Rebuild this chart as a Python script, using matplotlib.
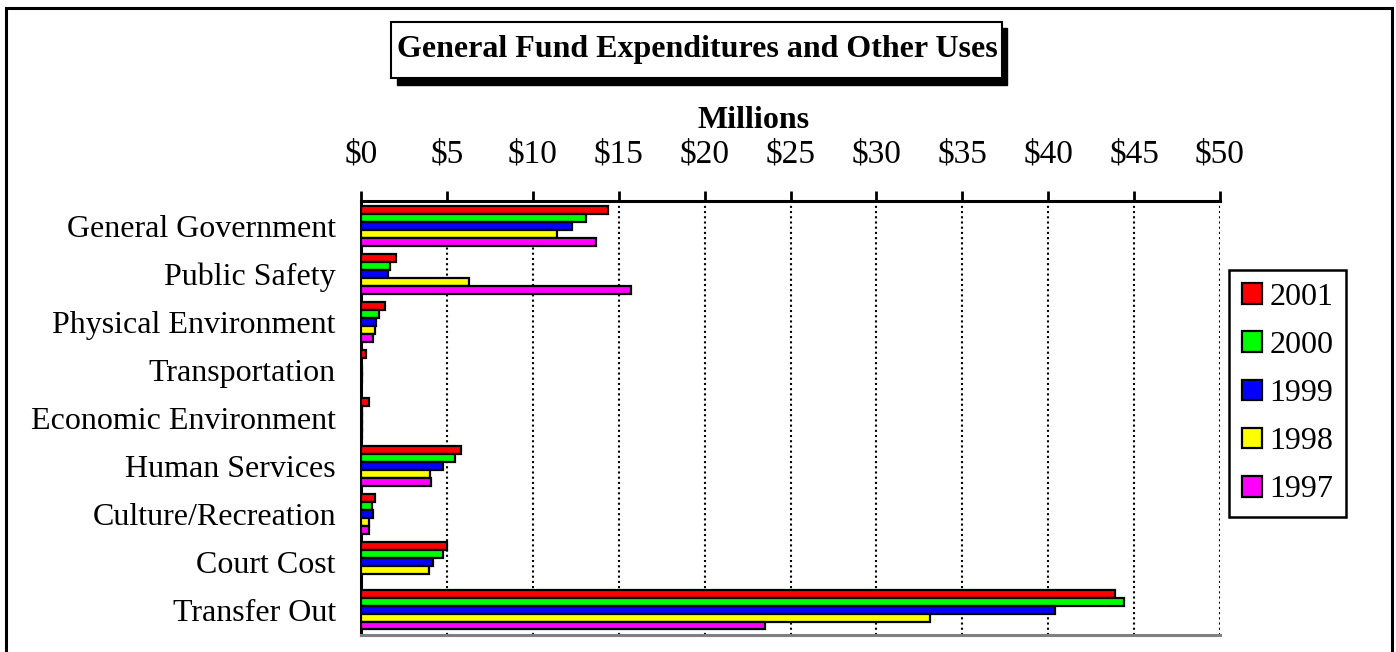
import numpy as np
import matplotlib
matplotlib.use('Agg')
import matplotlib.pyplot as plt
from matplotlib.patches import Rectangle

plt.rcParams['font.family'] = ['Liberation Serif', 'DejaVu Serif']

categories = ['General Government', 'Public Safety', 'Physical Environment',
              'Transportation', 'Economic Environment', 'Human Services',
              'Culture/Recreation', 'Court Cost', 'Transfer Out']
years = ['2001', '2000', '1999', '1998', '1997']
colors = ['#ff0000', '#00ff00', '#0000ff', '#ffff00', '#ff00ff']

# millions of dollars
y2001 = [14.4, 2.05, 1.37, 0.3, 0.44, 5.8, 0.79, 4.98, 43.9]
y2000 = [13.1, 1.7, 1.02, 0.0, 0.05, 5.45, 0.65, 4.75, 44.4]
y1999 = [12.3, 1.6, 0.9, 0.05, 0.05, 4.75, 0.67, 4.17, 40.4]
y1998 = [11.4, 6.27, 0.79, 0.05, 0.05, 4.0, 0.44, 3.94, 33.1]
y1997 = [13.7, 15.7, 0.67, 0.0, 0.05, 4.05, 0.44, 0.0, 23.5]
series = [y2001, y2000, y1999, y1998, y1997]

xticks = [0, 5, 10, 15, 20, 25, 30, 35, 40, 45, 50]
xticklabels = ['$%d' % v for v in xticks]

W, H = 1396, 652
fig = plt.figure(figsize=(W / 100, H / 100), dpi=100)
ax = fig.add_axes([361 / W, 17 / H, 859 / W, 434 / H])

pos = np.arange(len(categories))
h = 0.166
for i, (vals, yr, c) in enumerate(zip(series, years, colors)):
    ax.barh(pos + (i - 2) * h, vals, height=h, color=c, edgecolor='black',
            linewidth=1.6, label=yr, zorder=3)

ax.set_xlim(0, 50)
ax.set_ylim(8.53, -0.52)
ax.set_xticks(xticks)
ax.set_xticklabels(xticklabels)
ax.set_yticks(pos)
ax.set_yticklabels(categories)
ax.xaxis.tick_top()
ax.tick_params(axis='x', direction='out', length=7, width=2, pad=16, labelsize=24)
ax.tick_params(axis='y', length=0, pad=18, labelsize=23)
ax.grid(axis='x', color='black', linestyle=(0, (1, 1.5)), linewidth=1.5, zorder=1)
ax.spines['right'].set_visible(False)
ax.spines['top'].set_linewidth(2.2)
ax.spines['left'].set_linewidth(2.2)
ax.spines['bottom'].set_color('gray')
ax.spines['bottom'].set_linewidth(2.2)

fig.text(754 / W, 1 - 121 / H, 'Millions', ha='center', va='center',
         fontsize=23, fontweight='bold')

# title box with drop shadow
fig.add_artist(Rectangle((397 / W, 1 - 85 / H), 610 / W, 57 / H,
                         transform=fig.transFigure, fc='black', ec='black'))
fig.add_artist(Rectangle((391 / W, 1 - 78 / H), 611 / W, 56 / H,
                         transform=fig.transFigure, fc='white', ec='black', lw=1.5))
fig.text(697 / W, 1 - 50 / H, 'General Fund Expenditures and Other Uses',
         ha='center', va='center', fontsize=23, fontweight='bold')

# outer frame
fig.add_artist(Rectangle((6 / W, -0.05), 1386 / W, 1.05 - 8 / H,
                         transform=fig.transFigure, fill=False, ec='black', lw=2.2))

leg = fig.legend(loc='upper left', bbox_to_anchor=(1229 / W, 1 - 270 / H),
                 bbox_transform=fig.transFigure, borderaxespad=0, fontsize=23,
                 fancybox=False, edgecolor='black', framealpha=1,
                 handlelength=0.62, handleheight=0.62, handletextpad=0.25,
                 labelspacing=0.6, borderpad=0.4)
leg.get_frame().set_linewidth(1.8)

fig.savefig('out.png', dpi=100)
